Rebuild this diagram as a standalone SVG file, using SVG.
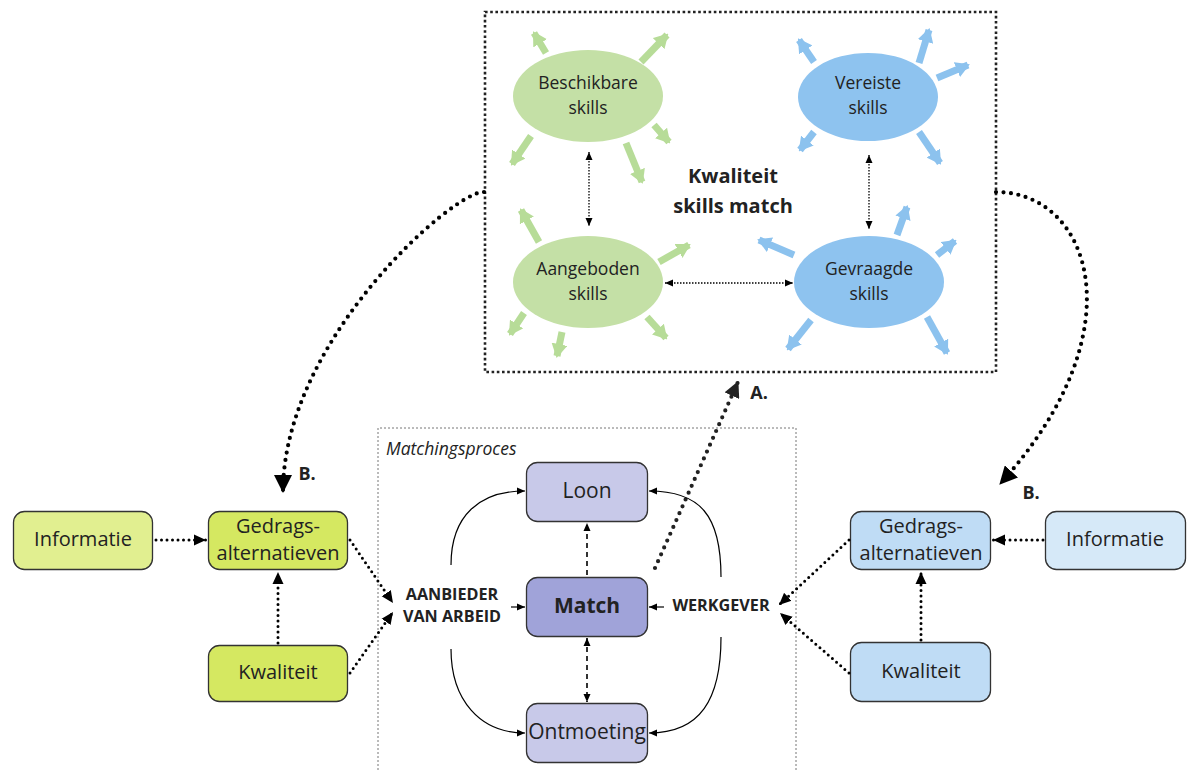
<svg xmlns="http://www.w3.org/2000/svg" width="1188" height="772" viewBox="0 0 1188 772">
<style>
text{font-family:"Open Sans","Liberation Sans",sans-serif;fill:#222;text-anchor:middle}
.ell{font-size:17.5px}
.node{stroke:#333;stroke-width:1.3}
.nt{font-size:20px}
.b{font-weight:bold}
.rg{stroke:#b7dc98;stroke-width:7;fill:none}
.rb{stroke:#8cc2ee;stroke-width:7;fill:none}
.dotbig{fill:none;stroke:#000;stroke-width:4.2;stroke-linecap:round;stroke-dasharray:0 7.5}
.dotsm{fill:none;stroke:#000;stroke-width:3;stroke-linecap:round;stroke-dasharray:0 5.5}
.dotfine{fill:none;stroke:#000;stroke-width:1.3;stroke-dasharray:1.5 1.5}
.dash{fill:none;stroke:#000;stroke-width:1.6;stroke-dasharray:5 4}
.thin{fill:none;stroke:#000;stroke-width:1.2}
</style>
<defs>
<marker id="rayg" markerUnits="userSpaceOnUse" markerWidth="14" markerHeight="16" refX="12" refY="8" orient="auto"><path d="M0,0 L14,8 L0,16 z" fill="#b7dc98"/></marker>
<marker id="rayb" markerUnits="userSpaceOnUse" markerWidth="14" markerHeight="16" refX="12" refY="8" orient="auto"><path d="M0,0 L14,8 L0,16 z" fill="#8cc2ee"/></marker>
<marker id="ah" markerUnits="userSpaceOnUse" markerWidth="8" markerHeight="8" refX="8" refY="4" orient="auto-start-reverse"><path d="M0,0.5 L8,4 L0,7.5 z" fill="#000"/></marker>
<marker id="ahm" markerUnits="userSpaceOnUse" markerWidth="12" markerHeight="12" refX="12" refY="6" orient="auto-start-reverse"><path d="M0,0.5 L12,6 L0,11.5 z" fill="#000"/></marker>
<marker id="ahb" markerUnits="userSpaceOnUse" markerWidth="18" markerHeight="18" refX="17" refY="9" orient="auto"><path d="M0,0 L18,9 L0,18 z" fill="#000"/></marker>
<marker id="aha" markerUnits="userSpaceOnUse" markerWidth="16" markerHeight="16" refX="15" refY="8" orient="auto"><path d="M0,0 L16,8 L0,16 z" fill="#222"/></marker>
</defs>

<!-- top box -->
<rect x="485" y="12" width="511" height="360" fill="none" stroke="#222" stroke-width="2.6" stroke-dasharray="2.6 2.6"/>
<!-- matchingsproces box -->
<path d="M378,790 L378,428 L796,428 L796,790" fill="none" stroke="#777" stroke-width="1" stroke-dasharray="2 2"/>
<text x="386" y="455" style="font-size:17.5px;font-style:italic;text-anchor:start">Matchingsproces</text>

<!-- rays -->
<g id="rays">
<line class="rg" x1="546" y1="53" x2="534" y2="33" marker-end="url(#rayg)"/>
<line class="rg" x1="641" y1="62" x2="667" y2="35" marker-end="url(#rayg)"/>
<line class="rg" x1="654" y1="125" x2="669" y2="142" marker-end="url(#rayg)"/>
<line class="rg" x1="626" y1="143" x2="642" y2="182" marker-end="url(#rayg)"/>
<line class="rg" x1="531" y1="136" x2="512" y2="164" marker-end="url(#rayg)"/>
<line class="rg" x1="539" y1="242" x2="521" y2="210" marker-end="url(#rayg)"/>
<line class="rg" x1="659" y1="262" x2="689" y2="245" marker-end="url(#rayg)"/>
<line class="rg" x1="524" y1="313" x2="510" y2="334" marker-end="url(#rayg)"/>
<line class="rg" x1="562" y1="332" x2="557" y2="356" marker-end="url(#rayg)"/>
<line class="rg" x1="647" y1="317" x2="666" y2="338" marker-end="url(#rayg)"/>
<line class="rb" x1="814" y1="62" x2="799" y2="40" marker-end="url(#rayb)"/>
<line class="rb" x1="919" y1="63" x2="929" y2="30" marker-end="url(#rayb)"/>
<line class="rb" x1="937" y1="78" x2="968" y2="65" marker-end="url(#rayb)"/>
<line class="rb" x1="814" y1="132" x2="800" y2="150" marker-end="url(#rayb)"/>
<line class="rb" x1="919" y1="132" x2="940" y2="163" marker-end="url(#rayb)"/>
<line class="rb" x1="794" y1="255" x2="759" y2="240" marker-end="url(#rayb)"/>
<line class="rb" x1="897" y1="235" x2="907" y2="207" marker-end="url(#rayb)"/>
<line class="rb" x1="937" y1="255" x2="955" y2="241" marker-end="url(#rayb)"/>
<line class="rb" x1="811" y1="320" x2="788" y2="349" marker-end="url(#rayb)"/>
<line class="rb" x1="927" y1="317" x2="947" y2="353" marker-end="url(#rayb)"/>
</g>

<g id="beschikbare"><ellipse cx="588" cy="96" rx="75" ry="46" fill="#c4e0a6"/><text class="ell" x="588" y="89">Beschikbare</text><text class="ell" x="588" y="114">skills</text></g>
<g id="vereiste"><ellipse cx="868" cy="97" rx="70" ry="44" fill="#8ec3ef"/><text class="ell" x="868" y="89">Vereiste</text><text class="ell" x="868" y="114">skills</text></g>
<g id="aangeboden"><ellipse cx="588" cy="282" rx="75" ry="46" fill="#c4e0a6"/><text class="ell" x="588" y="275">Aangeboden</text><text class="ell" x="588" y="300">skills</text></g>
<g id="gevraagde"><ellipse cx="869" cy="282" rx="75" ry="46" fill="#8ec3ef"/><text class="ell" x="869" y="275">Gevraagde</text><text class="ell" x="869" y="300">skills</text></g>
<g id="kwaliteit-skills"><text class="b" x="733" y="183" style="font-size:20px">Kwaliteit</text><text class="b" x="733" y="213" style="font-size:20px">skills match</text></g>

<!-- matching nodes -->
<g id="loon"><rect class="node" x="526.5" y="462.5" width="121" height="59" rx="11" fill="#c8c9e9"/><text class="nt" x="587" y="498" style="font-size:21px">Loon</text></g>
<g id="match"><rect class="node" x="526.5" y="577.5" width="121" height="59" rx="11" fill="#a0a3d9"/><text class="nt b" x="587" y="613" style="font-size:21px">Match</text></g>
<g id="ontmoeting"><rect class="node" x="526.5" y="703.5" width="121" height="59" rx="11" fill="#c8c9e9"/><text class="nt" x="587" y="739" style="font-size:21px">Ontmoeting</text></g>
<g id="aanbieder"><text class="b" x="452" y="600" style="font-size:16.2px">AANBIEDER</text><text class="b" x="452" y="622" style="font-size:16.2px">VAN ARBEID</text></g>
<g id="werkgever"><text class="b" x="721" y="611" style="font-size:16.2px">WERKGEVER</text></g>

<!-- left nodes -->
<g id="info-l"><rect class="node" x="13.5" y="511.5" width="139" height="58" rx="11" fill="#e1ef90"/><text class="nt" x="83" y="546">Informatie</text></g>
<g id="gedrag-l"><rect class="node" x="208.5" y="511.5" width="139" height="58" rx="11" fill="#d5e861"/><text class="nt" x="278" y="533">Gedrags-</text><text class="nt" x="278" y="560">alternatieven</text></g>
<g id="kwal-l"><rect class="node" x="208.5" y="645.5" width="139" height="56" rx="11" fill="#d5e861"/><text class="nt" x="278" y="679">Kwaliteit</text></g>

<!-- right nodes -->
<g id="gedrag-r"><rect class="node" x="850.5" y="511.5" width="140" height="58" rx="11" fill="#bfdcf5"/><text class="nt" x="921" y="533">Gedrags-</text><text class="nt" x="921" y="560">alternatieven</text></g>
<g id="info-r"><rect class="node" x="1045.5" y="511.5" width="140" height="58" rx="11" fill="#d6e9f8"/><text class="nt" x="1115" y="546">Informatie</text></g>
<g id="kwal-r"><rect class="node" x="850.5" y="642.5" width="140" height="59" rx="11" fill="#bfdcf5"/><text class="nt" x="921" y="678">Kwaliteit</text></g>

<g id="connectors">
<!-- top box inner -->
<line class="dotfine" x1="589" y1="152" x2="589" y2="226" marker-start="url(#ah)" marker-end="url(#ah)"/>
<line class="dotfine" x1="869" y1="155" x2="869" y2="229" marker-start="url(#ah)" marker-end="url(#ah)"/>
<line class="dotfine" x1="665" y1="283" x2="793" y2="283" marker-start="url(#ah)" marker-end="url(#ah)"/>
<!-- B curves -->
<path class="dotbig" d="M484,192 C455,190 283,340 283,492" marker-end="url(#ahb)"/>
<path class="dotbig" d="M996,192 C1090,192 1140,330 1000,484" marker-end="url(#ahb)"/>
<text class="b" x="307" y="480" style="font-size:18px">B.</text>
<text class="b" x="1031" y="499" style="font-size:18px">B.</text>
<!-- A -->
<path class="dotbig" d="M655,568 L738,382" style="stroke:#222" marker-end="url(#aha)"/>
<text class="b" x="759" y="399" style="font-size:18px">A.</text>
<!-- matching -->
<path class="thin" d="M451,565 C451,515 480,491 525,491" marker-end="url(#ah)"/>
<path class="thin" d="M451,649 C451,700 480,733 525,733" marker-end="url(#ah)"/>
<path class="thin" d="M721,577 C721,515 700,491 649,491" marker-end="url(#ah)"/>
<path class="thin" d="M721,637 C721,700 700,733 649,733" marker-end="url(#ah)"/>
<line class="thin" x1="511" y1="607" x2="525" y2="607" marker-end="url(#ah)"/>
<line class="thin" x1="664" y1="607" x2="649" y2="607" marker-end="url(#ah)"/>
<line class="dash" x1="587" y1="575" x2="587" y2="523" marker-end="url(#ah)"/>
<line class="dash" x1="587" y1="638" x2="587" y2="702" marker-start="url(#ah)" marker-end="url(#ah)"/>
<!-- left -->
<line class="dotsm" x1="156" y1="540" x2="206" y2="540" marker-end="url(#ahm)"/>
<line class="dotsm" x1="278" y1="643" x2="278" y2="572" marker-end="url(#ahm)"/>
<line class="dotsm" x1="350" y1="540" x2="393" y2="603" marker-end="url(#ahm)"/>
<line class="dotsm" x1="350" y1="673" x2="393" y2="612" marker-end="url(#ahm)"/>
<!-- right -->
<line class="dotsm" x1="1043" y1="540" x2="993" y2="540" marker-end="url(#ahm)"/>
<line class="dotsm" x1="921" y1="640" x2="921" y2="572" marker-end="url(#ahm)"/>
<line class="dotsm" x1="849" y1="540" x2="779" y2="605" marker-end="url(#ahm)"/>
<line class="dotsm" x1="849" y1="673" x2="780" y2="613" marker-end="url(#ahm)"/>
</g>
</svg>
